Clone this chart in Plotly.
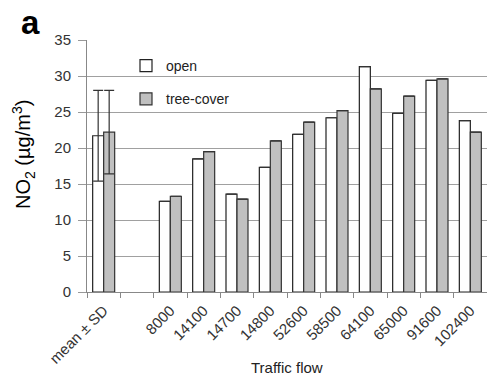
import plotly.graph_objects as go

categories = ["mean ± SD", " ", "8000", "14100", "14700", "14800", "52600",
              "58500", "64100", "65000", "91600", "102400"]
open_cats = ["mean ± SD", "8000", "14100", "14700", "14800", "52600",
             "58500", "64100", "65000", "91600", "102400"]
open_vals = [21.7, 12.6, 18.5, 13.6, 17.3, 21.9, 24.2, 31.3, 24.8, 29.4, 23.8]
tree_vals = [22.2, 13.3, 19.5, 12.9, 21.0, 23.6, 25.2, 28.2, 27.2, 29.6, 22.2]
open_sd = [6.3, None, None, None, None, None, None, None, None, None, None]
tree_sd = [5.8, None, None, None, None, None, None, None, None, None, None]

FONT = "Liberation Sans, Arial, sans-serif"
L, T, R, B = 87, 40, 0, 89
W, H = 487, 381
pw, ph = W - L - R, H - T - B


def px(x):
    return (x - L) / pw


def py(y):
    return (H - B - y) / ph


fig = go.Figure()
fig.add_trace(go.Bar(
    x=open_cats, y=open_vals, name="open", legendgroup="a",
    marker=dict(color="white", line=dict(color="#222222", width=1.2)),
    error_y=dict(type="data", array=open_sd, visible=True, color="#333333",
                 thickness=1.2, width=5),
))
fig.add_trace(go.Bar(
    x=open_cats, y=tree_vals, name="tree-cover", legendgroup="b",
    marker=dict(color="#c0c0c0", line=dict(color="#333333", width=1.2)),
    error_y=dict(type="data", array=tree_sd, visible=True, color="#333333",
                 thickness=1.2, width=5),
))

fig.update_layout(
    width=W, height=H,
    margin=dict(l=L, r=R, t=T, b=B, autoexpand=False),
    paper_bgcolor="white", plot_bgcolor="white",
    barmode="group", bargap=0.34, bargroupgap=0,
    font=dict(family=FONT, size=13, color="#333333"),
    legend=dict(x=px(126), y=py(50), xanchor="left", yanchor="top",
                bgcolor="rgba(0,0,0,0)", tracegroupgap=12,
                font=dict(size=14, color="#222222"), itemwidth=30),
    xaxis=dict(
        type="category", categoryorder="array", categoryarray=categories,
        range=[-0.5, 11.5], tickangle=-45, ticks="outside", tickson="boundaries",
        ticklen=5, tickcolor="#888888", showline=True, linecolor="#888888",
        linewidth=1, showgrid=False, tickfont=dict(size=15, color="#333333"),
        ticklabelstandoff=3, automargin=False,
    ),
    yaxis=dict(
        range=[0, 35], dtick=5, ticks="outside", ticklen=8, tickcolor="#999999",
        showline=True, linecolor="#888888", linewidth=1,
        showgrid=True, gridcolor="#a0a0a0", gridwidth=1, zeroline=False,
        tickfont=dict(size=15, color="#333333"), ticklabelstandoff=4,
        automargin=False,
    ),
    annotations=[
        dict(text="<b>a</b>", x=px(19), y=py(22), xref="paper", yref="paper",
             xanchor="left", yanchor="middle", showarrow=False,
             font=dict(size=33, color="black", family=FONT)),
        dict(text="NO<sub>2</sub> (µg/m<sup>3</sup>)", x=px(23), y=py(155),
             xref="paper", yref="paper", xanchor="center", yanchor="middle",
             textangle=-90, showarrow=False,
             font=dict(size=20, color="black", family=FONT)),
        dict(text="Traffic flow", x=px(287), y=py(367), xref="paper",
             yref="paper", xanchor="center", yanchor="middle",
             showarrow=False, font=dict(size=15, color="#222222", family=FONT)),
    ],
)

fig.write_html("out.html", config={"displayModeBar": False})
with open("out.html", encoding="utf-8") as f:
    html = f.read()
html = html.replace("<head>", "<head><style>html,body{margin:0;padding:0;overflow:hidden;}</style>", 1)
with open("out.html", "w", encoding="utf-8") as f:
    f.write(html)
